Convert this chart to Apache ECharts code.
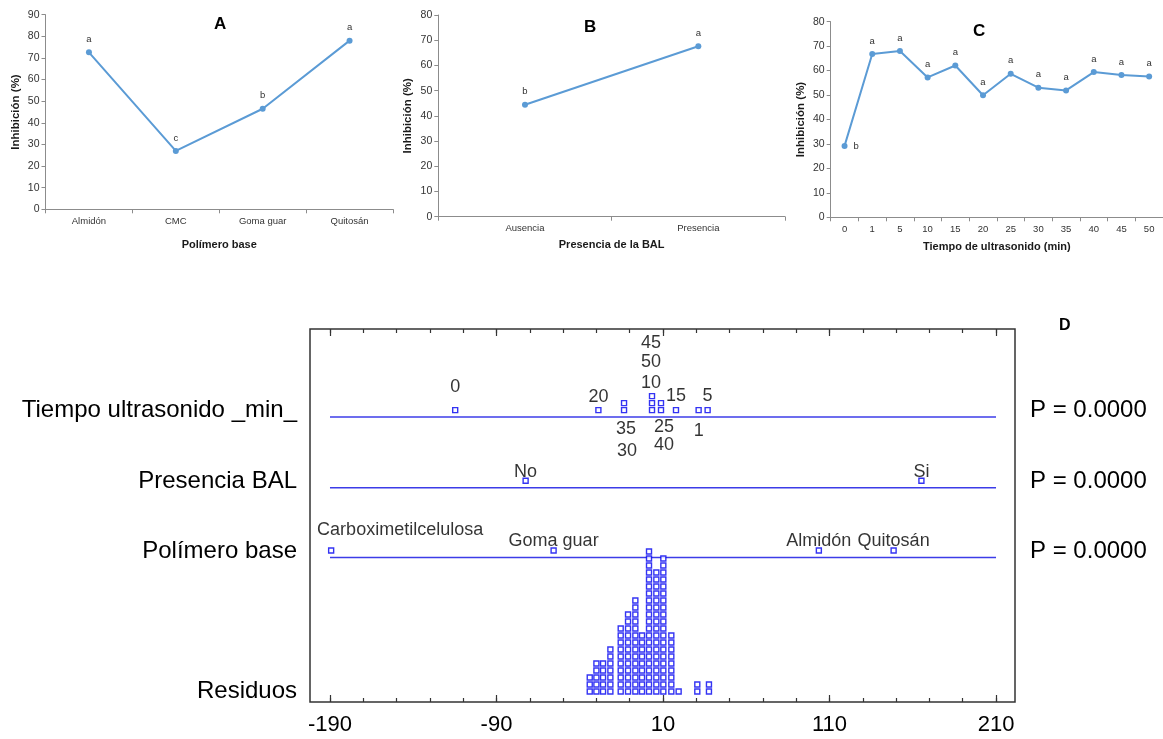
<!DOCTYPE html>
<html>
<head>
<meta charset="utf-8">
<script src="https://cdn.jsdelivr.net/npm/echarts@6/dist/echarts.min.js"></script>
<style>
  html, body { margin: 0; background: #fff; }
  #chart { width: 1163px; height: 739px; }
</style>
</head>
<body>
<div id="chart"></div>
<script>
// panel A
const polymerCats = ['Almidón', 'CMC', 'Goma guar', 'Quitosán'];
const polymerInhib = [72.6, 27.0, 46.5, 78.0];
const polymerLetters = ['a', 'c', 'b', 'a'];
// panel B
const balCats = ['Ausencia', 'Presencia'];
const balInhib = [44.4, 67.6];
const balLetters = ['b', 'a'];
// panel C
const timeCats = ['0', '1', '5', '10', '15', '20', '25', '30', '35', '40', '45', '50'];
const timeInhib = [29.2, 66.8, 68.0, 57.2, 62.1, 49.9, 58.7, 53.0, 51.9, 59.4, 58.2, 57.6];
const timeLetters = ['b', 'a', 'a', 'a', 'a', 'a', 'a', 'a', 'a', 'a', 'a', 'a'];

// panel D (graphical ANOVA)
const rowNames = ['Residuos', 'Polímero base', 'Presencia BAL', 'Tiempo ultrasonido _min_'];
const rowP = ['', 'P = 0.0000', 'P = 0.0000', 'P = 0.0000'];
const tiempoEffects = [-114.8, 31.4, 36.8, 3.4, 17.8, -28.8, 8.8, -13.4, -13.4, 8.8, 3.4, 3.4];
const balLevels = ['No', 'Si'];
const balEffects = [-72.5, 165.2];
const polLevels = ['Carboximetilcelulosa', 'Goma guar', 'Almidón', 'Quitosán'];
const polEffects = [-189.3, -55.7, 103.6, 148.5];
const residX = [-34, -30, -26, -21.6, -15.4, -11, -6.6, -2.6, 1.6, 6, 10.2, 15, 19.4, 30.6, 37.6];
const residCount = [3, 5, 5, 7, 10, 12, 14, 9, 21, 18, 20, 9, 1, 2, 2];
const majorTicks = [-190, -90, 10, 110, 210];
const minorTicks = [-190, -170, -150, -130, -110, -90, -70, -50, -30, -10, 10, 30, 50, 70, 90, 110, 130, 150, 170, 190, 210];

// layout of panel D, in stack units (one unit = one square step)
const residBase = 1.5;
const rowLineY = [null, 20.65, 30.6, 40.7];
const rowLabelY = [1.55, 21.55, 31.5, 41.6];
const labelShift = {
  '0': [0, -23], '1': [0, 21], '5': [0, -14], '10': [-1, -27], '15': [0, -14], '20': [0, -13],
  '25': [3, 17], '30': [3, 41], '35': [2, 26], '40': [3, 42], '45': [-1, -60], '50': [-1, -34],
  'Carboximetilcelulosa': [69, -20]
};

const blue = '#5B9BD5';
const font = 'Liberation Sans, Arial, sans-serif';

function topX(g, cats, name, gap) {
  return {
    type: 'category', gridIndex: g, data: cats, boundaryGap: true,
    name: name, nameLocation: 'middle', nameGap: gap,
    nameTextStyle: { fontWeight: 'bold', fontSize: 11, color: '#1a1a1a', fontFamily: font },
    axisLine: { lineStyle: { color: '#8c8c8c' } },
    axisTick: { show: true, length: 4, lineStyle: { color: '#8c8c8c' } },
    axisLabel: { fontSize: 9.5, color: '#333', margin: 7, fontFamily: font, interval: 0 }
  };
}

function topY(g, max) {
  return {
    type: 'value', gridIndex: g, min: 0, max: max, interval: 10,
    name: 'Inhibición (%)', nameLocation: 'middle', nameGap: 24, nameRotate: 90,
    nameTextStyle: { fontWeight: 'bold', fontSize: 11.5, color: '#1a1a1a', fontFamily: font },
    axisLine: { show: true, lineStyle: { color: '#8c8c8c' } },
    axisTick: { show: true, length: 4, lineStyle: { color: '#8c8c8c' } },
    axisLabel: { fontSize: 10.5, color: '#333', margin: 6, fontFamily: font },
    splitLine: { show: false }
  };
}

function topSeries(g, values, letters) {
  return {
    type: 'line', xAxisIndex: g, yAxisIndex: g,
    data: values.map((v, i) => {
      let item = { value: v };
      if (letters[i] === 'b' && g === 2) item.label = { position: 'right', distance: 6 };
      return item;
    }),
    symbol: 'circle', symbolSize: 6,
    itemStyle: { color: blue },
    lineStyle: { color: blue, width: 2 },
    label: {
      show: true, position: 'top', distance: 5, fontSize: 9.5, color: '#333', fontFamily: font,
      formatter: p => letters[p.dataIndex]
    },
    animation: false
  };
}

function factorPoints(levels, effects, lineY) {
  const seen = {};
  return levels.map((nm, i) => {
    const key = String(effects[i]);
    seen[key] = (seen[key] || 0) + 1;
    return {
      name: nm,
      value: [effects[i], lineY + seen[key]],
      label: { offset: labelShift[nm] || [0, -9] }
    };
  });
}

const residPoints = [];
residX.forEach((x, i) => {
  for (let k = 0; k < residCount[i]; k++) residPoints.push([x, residBase + k]);
});

const squareStyle = { color: '#fff', borderColor: '#0000f0', borderWidth: 1.4 };
const dLabel = { show: true, position: 'inside', formatter: '{b}', fontSize: 18, color: '#000', fontFamily: font };

function rowLine(y) {
  return {
    type: 'line', xAxisIndex: 3, yAxisIndex: 3, silent: true, symbol: 'none',
    data: [[majorTicks[0], y], [majorTicks[majorTicks.length - 1], y]],
    lineStyle: { color: '#3c3ce8', width: 1.5 }, z: 1
  };
}

function dX(position, ticks, len, labels) {
  return {
    type: 'value', gridIndex: 3, min: -202, max: 221.4, position: position,
    axisLine: { show: false },
    splitLine: { show: false },
    axisTick: { show: true, inside: true, length: len, customValues: ticks, lineStyle: { color: '#333', width: 1.2 } },
    axisLabel: labels
      ? { show: true, customValues: majorTicks, fontSize: 22, color: '#000', margin: 12, fontFamily: font }
      : { show: false }
  };
}

const chart = echarts.init(document.getElementById('chart'));
chart.setOption({
  backgroundColor: '#fff',
  animation: false,
  textStyle: { fontFamily: font },
  grid: [
    { left: 45.5, top: 14.7, width: 347.5, height: 194.6 },
    { left: 438.3, top: 15, width: 346.7, height: 201.7 },
    { left: 830.7, top: 21.7, width: 338.3, height: 195.6 },
    { left: 310, top: 329, width: 705, height: 373, show: true, borderColor: '#333', borderWidth: 1.5 }
  ],
  xAxis: [
    topX(0, polymerCats, 'Polímero base', 30),
    topX(1, balCats, 'Presencia de la BAL', 23),
    topX(2, timeCats, 'Tiempo de ultrasonido (min)', 24),
    dX('bottom', majorTicks, 7, true),
    dX('bottom', minorTicks, 4, false),
    dX('top', majorTicks, 7, false),
    dX('top', minorTicks, 4, false)
  ],
  yAxis: [
    topY(0, 90),
    topY(1, 80),
    topY(2, 80),
    {
      type: 'value', gridIndex: 3, min: 0, max: 373 / 7, position: 'left',
      axisLine: { show: false }, axisTick: { show: false }, splitLine: { show: false },
      axisLabel: {
        customValues: rowLabelY, fontSize: 24, color: '#000', margin: 13, fontFamily: font,
        formatter: v => rowNames[rowLabelY.indexOf(v)]
      }
    },
    {
      type: 'value', gridIndex: 3, min: 0, max: 373 / 7, position: 'right',
      axisLine: { show: false }, axisTick: { show: false }, splitLine: { show: false },
      axisLabel: {
        customValues: rowLabelY.slice(1), fontSize: 24, color: '#000', margin: 15, fontFamily: font,
        formatter: v => rowP[rowLabelY.indexOf(v)]
      }
    }
  ],
  graphic: [
    { type: 'text', left: 214, top: 16, style: { text: 'A', fontSize: 17, fontWeight: 'bold', fill: '#000', fontFamily: font } },
    { type: 'text', left: 584, top: 19, style: { text: 'B', fontSize: 17, fontWeight: 'bold', fill: '#000', fontFamily: font } },
    { type: 'text', left: 973, top: 23, style: { text: 'C', fontSize: 17, fontWeight: 'bold', fill: '#000', fontFamily: font } },
    { type: 'text', left: 1059, top: 318, style: { text: 'D', fontSize: 16, fontWeight: 'bold', fill: '#000', fontFamily: font } }
  ],
  series: [
    topSeries(0, polymerInhib, polymerLetters),
    topSeries(1, balInhib, balLetters),
    topSeries(2, timeInhib, timeLetters),
    rowLine(rowLineY[1]),
    rowLine(rowLineY[2]),
    rowLine(rowLineY[3]),
    {
      type: 'scatter', xAxisIndex: 3, yAxisIndex: 3, symbol: 'rect', symbolSize: 5,
      itemStyle: squareStyle, data: residPoints, z: 3
    },
    {
      type: 'scatter', xAxisIndex: 3, yAxisIndex: 3, symbol: 'rect', symbolSize: 5,
      itemStyle: squareStyle, label: dLabel, z: 3,
      data: factorPoints(timeCats, tiempoEffects, rowLineY[3])
    },
    {
      type: 'scatter', xAxisIndex: 3, yAxisIndex: 3, symbol: 'rect', symbolSize: 5,
      itemStyle: squareStyle, label: dLabel, z: 3,
      data: factorPoints(balLevels, balEffects, rowLineY[2])
    },
    {
      type: 'scatter', xAxisIndex: 3, yAxisIndex: 3, symbol: 'rect', symbolSize: 5,
      itemStyle: squareStyle, label: dLabel, z: 3,
      data: factorPoints(polLevels, polEffects, rowLineY[1])
    }
  ]
});
</script>
</body>
</html>
